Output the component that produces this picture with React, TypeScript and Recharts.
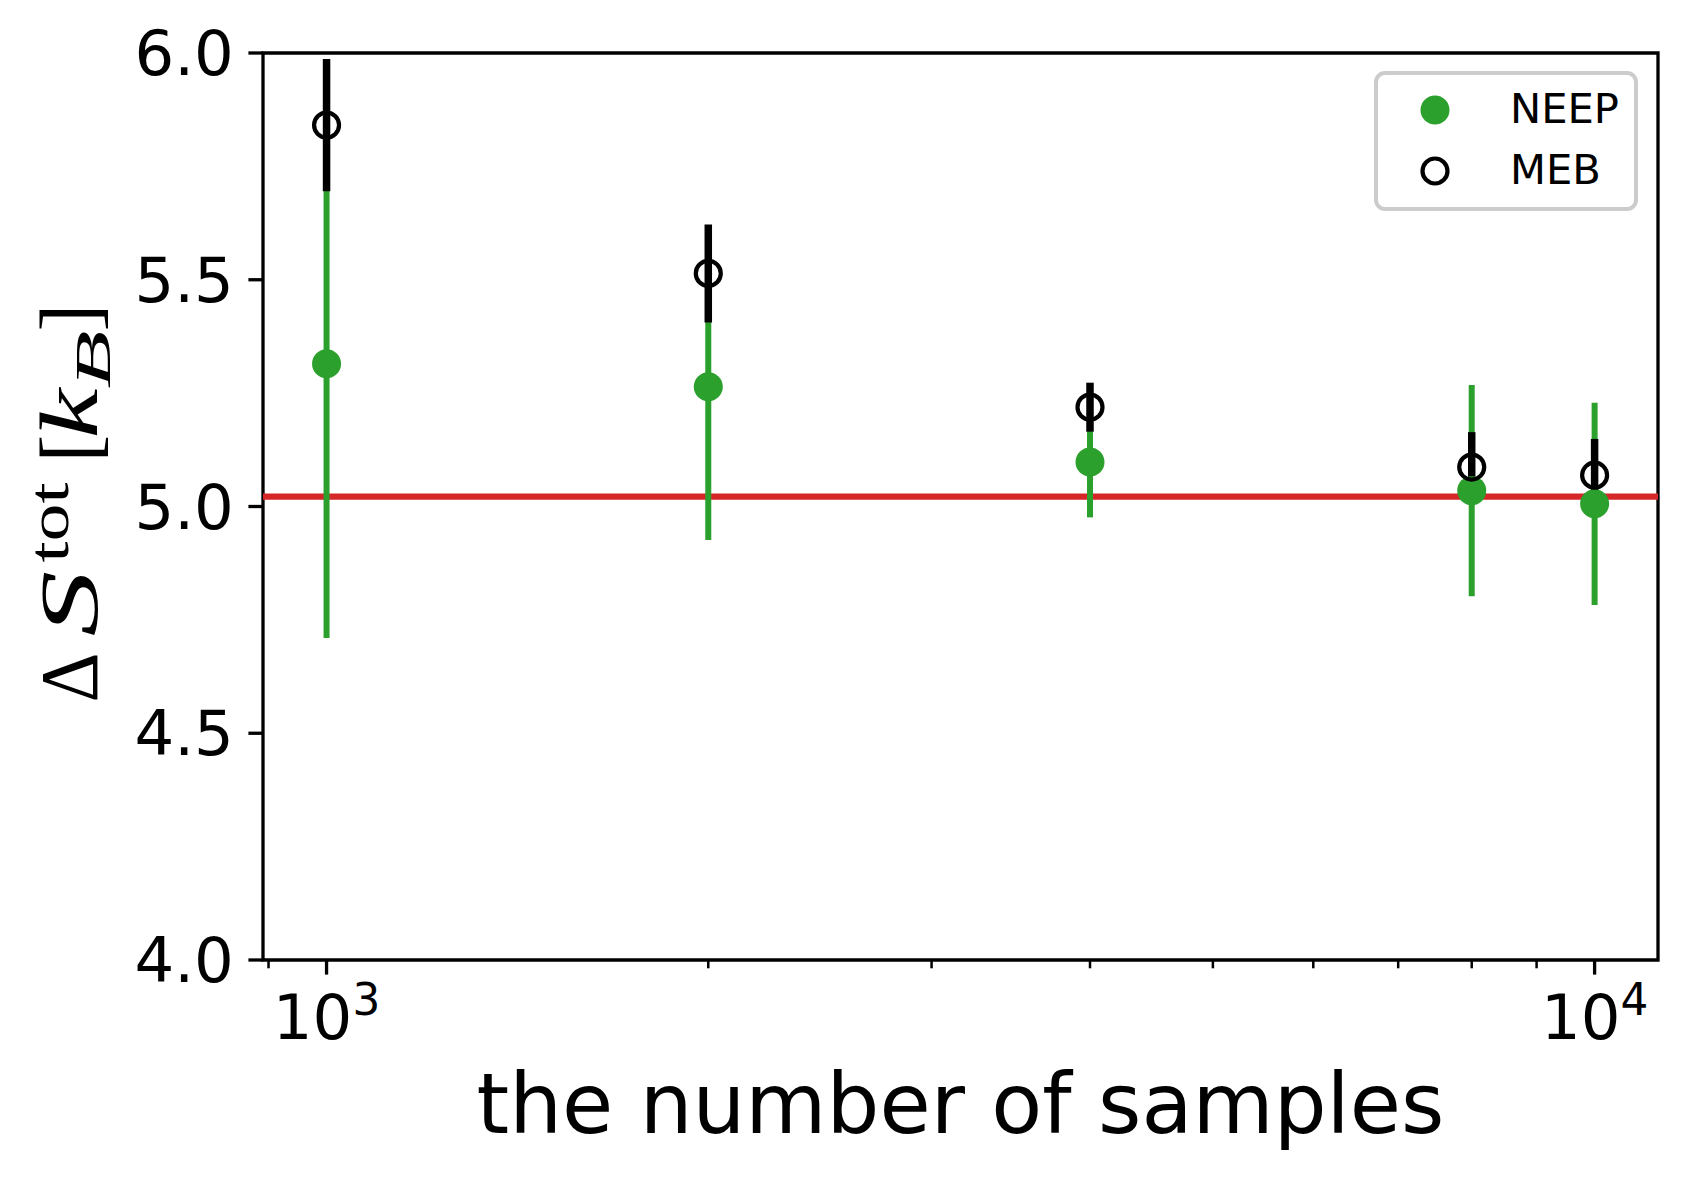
import React from "react"
import {
  ScatterChart,
  Scatter,
  XAxis,
  YAxis,
  ErrorBar,
  ReferenceLine,
  ReferenceArea,
  Legend,
} from "recharts"

// number of samples used for each estimate
const samples = [1000, 2000, 4000, 8000, 10000]

// NEEP estimates and their error bars
const neepMean = [5.315, 5.264, 5.098, 5.035, 5.006]
const neepErr = [0.605, 0.338, 0.122, 0.233, 0.223]

// MEB estimates and their error bars
const mebMean = [5.841, 5.514, 5.219, 5.087, 5.069]
const mebErr = [0.146, 0.108, 0.054, 0.077, 0.08]

// analytic value (red line)
const trueEntropy = 5.022

const xMajorTicks = [1000, 10000]
const xMinorTicks = [900, 2000, 3000, 4000, 5000, 6000, 7000, 8000, 9000]
const yTicks = [4.0, 4.5, 5.0, 5.5, 6.0]

const GREEN = "#2ca02c"
const RED = "#d62728"
const SANS = "DejaVu Sans"
const SERIF = "Liberation Serif"

const neepRows = samples.map((s, i) => ({ x: s, y: neepMean[i], err: neepErr[i] }))
const mebRows = samples.map((s, i) => ({ x: s, y: mebMean[i], err: mebErr[i] }))

const xTicks = [...xMinorTicks, ...xMajorTicks].sort((a, b) => a - b)

function renderXTick(props: any) {
  const { x, y, payload } = props
  const v = payload.value
  const major = xMajorTicks.includes(v)
  return (
    <g>
      <line
        x1={x}
        x2={x}
        y1={y}
        y2={y + (major ? 14.6 : 8.3)}
        stroke="#000"
        strokeWidth={major ? 3.3 : 2.5}
      />
      {major && (
        <text x={x} y={y + 79} textAnchor="middle" fontFamily={SANS} fontSize={62.5} fill="#000">
          10
          <tspan dy={-24} fontSize={43.75}>
            {Math.round(Math.log10(v))}
          </tspan>
        </text>
      )}
    </g>
  )
}

const NeepDot = (props: any) => <circle cx={props.cx} cy={props.cy} r={14.5} fill={GREEN} />
const MebDot = (props: any) => (
  <circle cx={props.cx} cy={props.cy} r={12.5} fill="none" stroke="#000" strokeWidth={4.2} />
)
const NoDot = () => <g />

const XLabel = (props: any) => {
  const vb = props.viewBox
  return (
    <text x={vb.x + vb.width / 2} y={vb.y + 173} textAnchor="middle" fontFamily={SANS} fontSize={83.3} fill="#000">
      the number of samples
    </text>
  )
}

// ΔS^tot [k_B], laid out piece by piece like mathtext
const YLabel = (props: any) => {
  const vb = props.viewBox
  const cy = vb.y + vb.height / 2
  const fit = { lengthAdjust: "spacingAndGlyphs" as const }
  return (
    <g transform={`translate(97, ${cy + 196}) rotate(-90)`} fill="#000" fontFamily={SERIF}>
      <text x={0} y={0} fontSize={83.3} textLength={50} {...fit}>Δ</text>
      <text x={66} y={0} fontSize={83.3} fontStyle="italic" textLength={66} {...fit}>S</text>
      <text x={140} y={-29} fontSize={58} textLength={80} {...fit}>tot</text>
      <text x={240} y={0} fontSize={83.3}>[</text>
      <text x={264} y={0} fontSize={83.3} fontStyle="italic" textLength={50} {...fit}>k</text>
      <text x={314} y={13} fontSize={50} fontStyle="italic" textLength={58} {...fit}>B</text>
      <text x={371} y={0} fontSize={83.3}>]</text>
    </g>
  )
}

const legendItems = [
  { name: "NEEP", filled: true },
  { name: "MEB", filled: false },
]

const LegendBox = () => (
  <svg width={264} height={140} style={{ display: "block" }}>
    <rect x={2} y={2} width={260} height={136} rx={9} ry={9} fill="#fff" fillOpacity={0.8} stroke="#cccccc" strokeWidth={4} />
    {legendItems.map((it, i) => (
      <g key={it.name}>
        {it.filled ? (
          <circle cx={61} cy={39 + i * 61} r={14.5} fill={GREEN} />
        ) : (
          <circle cx={61} cy={39 + i * 61} r={12.5} fill="none" stroke="#000" strokeWidth={4.2} />
        )}
        <text x={136} y={52 + i * 61} fontFamily={SANS} fontSize={41.7} fill="#000">
          {it.name}
        </text>
      </g>
    ))}
  </svg>
)

export default function App() {
  return (
    <div style={{ position: "absolute", left: 0, top: 0, background: "#fff" }}>
      <ScatterChart width={1686} height={1179} margin={{ top: 53, right: 28, bottom: 0, left: 0 }}>
        <XAxis
          dataKey="x"
          type="number"
          scale="log"
          domain={[891, 11220]}
          allowDataOverflow
          ticks={xTicks}
          interval={0}
          tick={renderXTick}
          tickLine={false}
          tickSize={0}
          tickMargin={0}
          axisLine={false}
          height={219}
          label={<XLabel />}
        />
        <YAxis
          dataKey="y"
          type="number"
          domain={[4, 6]}
          allowDataOverflow
          ticks={yTicks}
          interval={0}
          tickFormatter={(v: number) => v.toFixed(1)}
          tick={{ fill: "#000", fontSize: 62.5, fontFamily: SANS }}
          tickLine={{ stroke: "#000", strokeWidth: 3.3 }}
          tickSize={14.6}
          tickMargin={14.6}
          axisLine={false}
          width={263}
          label={<YLabel />}
        />
        <Legend
          layout="vertical"
          align="center"
          verticalAlign="middle"
          wrapperStyle={{ left: 1374, top: 71, width: 264, height: 140 }}
          content={() => <LegendBox />}
        />
        <Scatter name="NEEP" data={neepRows} shape={NeepDot} isAnimationActive={false} />
        <Scatter name="MEB" data={mebRows} shape={MebDot} isAnimationActive={false} />
        <ReferenceLine y={trueEntropy} stroke={RED} strokeWidth={6.25} />
        <Scatter name="NEEP err" data={neepRows} shape={NoDot} legendType="none" isAnimationActive={false}>
          <ErrorBar dataKey="err" direction="y" width={0} stroke={GREEN} strokeWidth={6} />
        </Scatter>
        <Scatter name="MEB err" data={mebRows} shape={NoDot} legendType="none" isAnimationActive={false}>
          <ErrorBar dataKey="err" direction="y" width={0} stroke="#000" strokeWidth={7.5} />
        </Scatter>
        <ReferenceArea x1={891} x2={11220} y1={4} y2={6} fill="none" stroke="#000" strokeWidth={3.3} />
      </ScatterChart>
    </div>
  )
}
